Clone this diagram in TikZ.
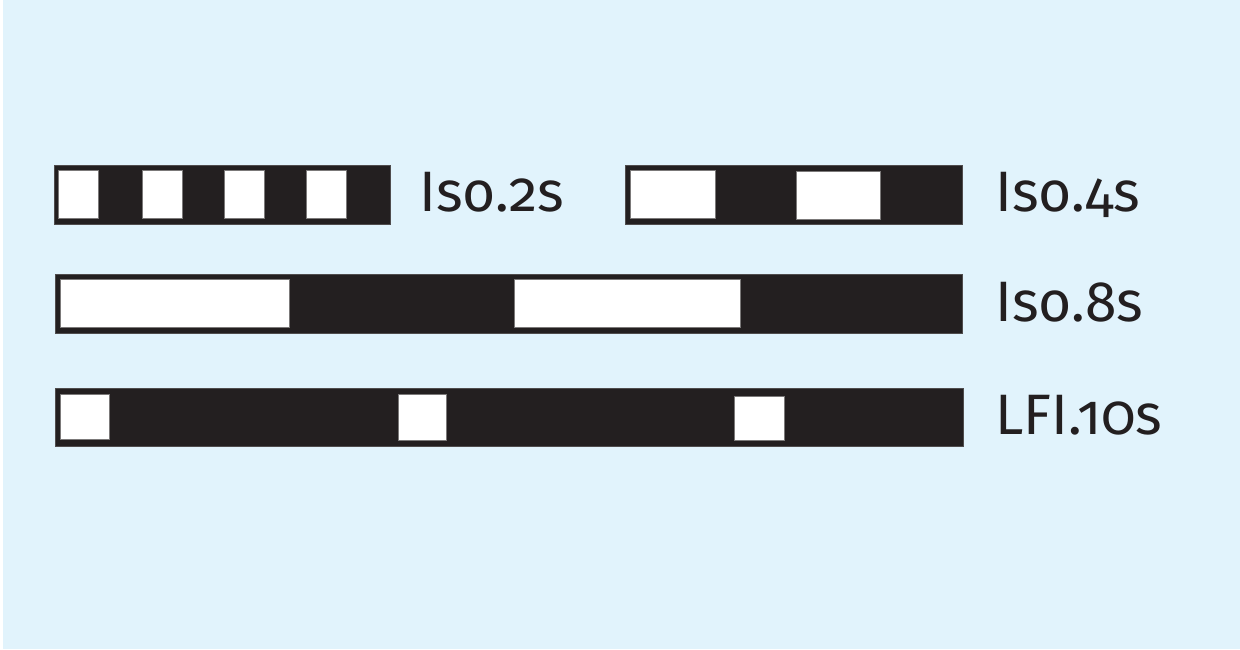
\documentclass[tikz,border=0pt]{standalone}
\usepackage{fontspec}
\setmainfont[Numbers=OldStyle]{Fira Sans}
\definecolor{bgblue}{HTML}{E1F3FC}
\definecolor{bardark}{HTML}{231F20}
\tikzset{
  bar/.style={fill=bardark, draw=bardark!80, line width=0.6pt},
  gap/.style={fill=white, draw=bardark!60, line width=0.5pt},
  lbl/.style={anchor=base west, inner sep=0pt, text=bardark, font=\fontsize{57}{62}\selectfont}
}
\begin{document}
\begin{tikzpicture}[x=1pt,y=-1pt]
\useasboundingbox (0,0) rectangle (1240,649);
\fill[white] (0,0) rectangle (1240,649);
\fill[bgblue] (3,0) rectangle (1240,649);
% Iso.2s
\draw[bar] (54,165) rectangle (390,224);
\foreach \x in {58,142,224,306} \draw[gap] (\x,170) rectangle ++(40,48);
\node[lbl] (t2) at (419,211) {Iso.2s};
% Iso.4s
\draw[bar] (625,165) rectangle (962,224);
\draw[gap] (630,170) rectangle (715,218);
\draw[gap] (796,171) rectangle (880,219);
\node[lbl] (t4) at (995,211) {Iso.4s};
% Iso.8s
\draw[bar] (55,274) rectangle (962,333);
\draw[gap] (60,279) rectangle (289,327);
\draw[gap] (514,279) rectangle (740,327);
\node[lbl] (t8) at (995,321) {Iso.8s};
% LFI.10s
\draw[bar] (55,388) rectangle (963,446);
\draw[gap] (60,394) rectangle (109,439);
\draw[gap] (398,394) rectangle (446,440);
\draw[gap] (734,396) rectangle (784,440);
\node[lbl] (t10) at (995,434) {LFI.10s};
\end{tikzpicture}
\end{document}
